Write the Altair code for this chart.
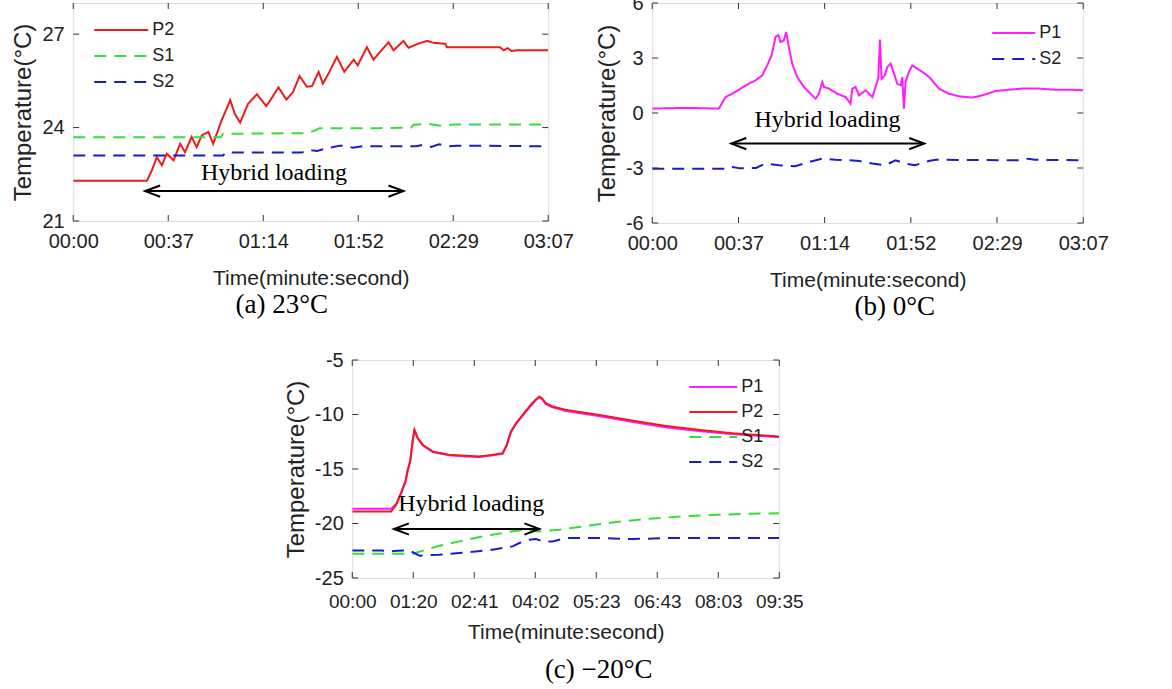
import altair as alt
import pandas as pd

FONT = "Liberation Sans"
SERIF = "Liberation Serif"

# ---------------- Panel (a) 23°C ----------------
a_p2_t = [0, 29, 31, 32.9, 34.9, 36.8, 39.5, 42.1, 44, 46.6, 48.6, 50.6, 53.2, 55.1, 58.4, 61.8, 63.6, 65.7,
          68.8, 72.3, 76, 78, 80.8, 83.9, 86.5, 89.1, 92, 94, 96.6, 98.3, 100.8, 103.8, 106.7, 110.4, 112,
          115.6, 118.2, 121, 124.1, 126.1, 130, 132, 136, 139.2, 142, 146.5, 147.1, 160, 168, 169.5, 171,
          172.5, 174.7, 187]
a_p2_v = [22.29, 22.29, 22.63, 23.05, 22.79, 23.16, 22.95, 23.48, 23.21, 23.7, 23.37, 23.75, 23.86, 23.48,
          24.23, 24.88, 24.44, 24.16, 24.76, 25.07, 24.69, 24.93, 25.29, 24.9, 25.14, 25.65, 25.31, 25.33,
          25.79, 25.41, 25.78, 26.27, 25.79, 26.18, 26.0, 26.58, 26.18, 26.45, 26.74, 26.48, 26.78, 26.56,
          26.7, 26.78, 26.72, 26.69, 26.58, 26.58, 26.58, 26.48, 26.55, 26.46, 26.48, 26.48]
a_s1_t = [0, 58, 59, 92, 95, 97, 120, 133, 134, 140, 145, 150, 187]
a_s1_v = [23.69, 23.69, 23.8, 23.82, 23.9, 23.98, 23.98, 24.0, 24.09, 24.12, 24.06, 24.1, 24.1]
a_s2_t = [0, 59, 60, 90, 93, 96, 100, 105, 108, 110, 114, 135, 138, 141, 144, 148, 151, 187]
a_s2_v = [23.1, 23.1, 23.2, 23.2, 23.28, 23.25, 23.34, 23.42, 23.4, 23.35, 23.4, 23.4, 23.45, 23.38, 23.46,
          23.4, 23.42, 23.4]

# ---------------- Panel (b) 0°C ----------------
b_p1_t = [0, 15, 28.9, 31.8, 34.7, 39, 41.9, 44.8, 47.7, 49.9, 51.8, 53.5, 54.7, 55.7, 57.1, 58.1, 59, 60.7,
          62.9, 65.8, 69.4, 70.9, 72.3, 73.8, 74.5, 76.7, 80.3, 83.9, 86, 86.8, 88.2, 89.7, 92.6, 95.5, 96.9,
          98.1, 98.8, 99.5, 100.9, 102, 103.4, 104.9, 106.3, 107.8, 108.5, 109.2, 109.9, 111.4, 112.8, 115,
          117.2, 119.3, 120.8, 124.4, 128.7, 133.1, 138.9, 143.2, 149, 154.8, 160.5, 167.8, 175, 182.2, 187]
b_p1_v = [0.24, 0.28, 0.24, 0.87, 1.05, 1.38, 1.6, 1.78, 2.05, 2.6, 3.15, 4.15, 4.24, 3.87, 3.96, 4.42, 3.78,
          2.69, 1.96, 1.42, 0.96, 0.78, 1.05, 1.69, 1.42, 1.33, 1.05, 0.87, 0.51, 1.33, 1.42, 0.96, 1.24, 0.87,
          1.42, 1.96, 4.0, 1.87, 2.05, 2.51, 2.69, 2.15, 1.6, 1.51, 1.96, 0.24, 1.69, 2.24, 2.6, 2.42, 2.24,
          2.05, 1.87, 1.33, 1.05, 0.91, 0.84, 0.96, 1.2, 1.27, 1.33, 1.33, 1.27, 1.27, 1.24]
b_s2_t = [0, 33, 35, 38, 45, 49, 55, 62, 68, 73.8, 79.5, 85.3, 90, 95.5, 101, 105.6, 110, 114, 117, 120, 123,
          160, 163, 166, 187]
b_s2_v = [-3.04, -3.04, -2.95, -3.02, -3.0, -2.76, -2.85, -2.9, -2.67, -2.49, -2.55, -2.58, -2.62, -2.76,
          -2.85, -2.58, -2.76, -2.85, -2.73, -2.62, -2.55, -2.58, -2.49, -2.55, -2.58]

# ---------------- Panel (c) -20°C ----------------
c_p_t = [0, 51.4, 58, 64.6, 70.3, 73.3, 76.4, 79.9, 82.1, 86.5, 93.1, 106.3, 128.2, 150.2, 167.8, 185.3,
         198.5, 203.8, 209.5, 216.1, 224.9, 233.7, 241.6, 246.8, 250.3, 255.6, 264.4, 282, 325.9, 369.8,
         413.7, 457.6, 501.5, 563.5]
c_p1_v = [-18.65, -18.65, -18.2, -17.15, -16.1, -15.05, -14.3, -12.35, -11.45, -12.2, -12.82, -13.45, -13.75,
          -13.85, -13.9, -13.75, -13.6, -12.85, -11.6, -10.85, -10.1, -9.35, -8.72, -8.42, -8.58, -9.05, -9.35,
          -9.68, -10.15, -10.68, -11.18, -11.52, -11.8, -12.08]
c_p2_v = [-18.89, -18.89, -18.28, -17.21, -16.15, -15.08, -14.31, -12.33, -11.41, -12.18, -12.79, -13.4, -13.7,
          -13.79, -13.85, -13.7, -13.55, -12.79, -11.56, -10.8, -10.04, -9.27, -8.66, -8.36, -8.51, -8.97,
          -9.27, -9.58, -10.04, -10.56, -11.05, -11.41, -11.72, -12.02]
c_s1_t = [0, 80, 97.5, 115, 141.4, 172, 203, 225, 247, 273, 304, 348, 392, 436, 480, 523.5, 563.5]
c_s1_v = [-22.77, -22.77, -22.4, -22.04, -21.64, -21.18, -20.82, -20.57, -20.73, -20.57, -20.27, -19.87,
          -19.56, -19.35, -19.2, -19.11, -19.05]
c_s2_t = [0, 40, 45, 60, 75.5, 88.7, 115, 150, 185, 211.7, 220.5, 233.7, 242.4, 251.2, 264.4, 282, 326, 370,
          414, 563.5]
c_s2_v = [-22.47, -22.47, -22.6, -22.5, -22.47, -22.95, -22.86, -22.65, -22.4, -22.1, -21.79, -21.49, -21.43,
          -21.64, -21.64, -21.34, -21.34, -21.43, -21.34, -21.34]

# tick labels
ab_xticks = [0, 37.4, 74.8, 112.2, 149.6, 187]
ab_xlabels = ["00:00", "00:37", "01:14", "01:52", "02:29", "03:07"]
c_xticks = [0, 80.5, 161, 241.5, 322, 402.5, 483, 563.5]
c_xlabels = ["00:00", "01:20", "02:41", "04:02", "05:23", "06:43", "08:03", "09:35"]
a_yticks = [21, 24, 27]
b_yticks = [-6, -3, 0, 3, 6]
c_yticks = [-25, -20, -15, -10, -5]

# annotations (data units): arrow start, arrow end, arrow level, text x, text y
a_ann = [28.3, 130, 21.96, 79, 22.53]
b_ann = [34.3, 118, -1.67, 76, -0.39]
c_ann = [55, 247, -20.5, 157, -18.2]

COL = {"P1": "#ff1dff", "P2": "#ee1b1b", "S1": "#36dd36", "S2": "#1b1bcc"}
DASH = {"P1": [1, 0], "P2": [1, 0], "S1": [12, 8], "S2": [12, 8]}


def make_df(series):
    rows = []
    for name, ts, vs in series:
        for i, (t, v) in enumerate(zip(ts, vs)):
            rows.append({"series": name, "t": t, "v": v, "order": i})
    return pd.DataFrame(rows)


def panel(series, xdomain, xticks, xlabels, ydomain, yticks, W, H, lx, ly, sym_len, row_pad,
          ann, caption, cap_dx, cap_offset, xlab_pad, xtitle_pad, xlab_size):
    names = [s[0] for s in series]
    xs = alt.Scale(domain=xdomain, nice=False, zero=False)
    ys = alt.Scale(domain=ydomain, nice=False, zero=False)
    step = xticks[1]
    lab_expr = "[" + ",".join("'%s'" % l for l in xlabels) + "][round(datum.value/%s)]" % step
    X = alt.X("t:Q", scale=xs, axis=alt.Axis(
        values=xticks, labelExpr=lab_expr, title="Time(minute:second)", ticks=False, domain=False,
        grid=False, labelFontSize=xlab_size, titleFontSize=21, labelPadding=xlab_pad, titlePadding=xtitle_pad,
        labelOverlap=False, labelFlush=False, titleFontWeight="normal", labelColor="#222",
        titleColor="#222", labelFont=FONT, titleFont=FONT))
    Y = alt.Y("v:Q", scale=ys, axis=alt.Axis(
        values=yticks, labelExpr="'' + datum.value", title="Temperature(°C)", ticks=False, domain=False,
        grid=False, labelFontSize=20, titleFontSize=24, labelPadding=9, titlePadding=6,
        labelOverlap=False, labelFlush=False, titleFontWeight="normal", labelColor="#222",
        titleColor="#222", labelFont=FONT, titleFont=FONT))
    leg = alt.Legend(title=None, orient="none", legendX=lx, legendY=ly, direction="vertical",
                     symbolType="stroke", symbolSize=sym_len * sym_len, symbolStrokeWidth=2,
                     labelFontSize=18, labelFont=FONT, labelColor="#222", clipHeight=18,
                     rowPadding=row_pad, labelOffset=3, padding=0)
    df = make_df(series)
    lines = alt.Chart(df).mark_line(strokeWidth=2, clip=True).encode(
        x=X, y=Y,
        color=alt.Color("series:N", scale=alt.Scale(domain=names, range=[COL[n] for n in names]), legend=leg),
        strokeDash=alt.StrokeDash("series:N", scale=alt.Scale(domain=names, range=[DASH[n] for n in names]),
                                  legend=leg),
        order="order:Q",
    )
    xt = pd.DataFrame({"t": xticks})
    yt = pd.DataFrame({"v": yticks})
    tick_b = alt.Chart(xt).mark_rule(color="#333", strokeWidth=1).encode(x=X, y=alt.value(H), y2=alt.value(H - 6))
    tick_t = alt.Chart(xt).mark_rule(color="#333", strokeWidth=1).encode(x=X, y=alt.value(0), y2=alt.value(6))
    tick_l = alt.Chart(yt).mark_rule(color="#333", strokeWidth=1).encode(y=Y, x=alt.value(0), x2=alt.value(6))
    tick_r = alt.Chart(yt).mark_rule(color="#333", strokeWidth=1).encode(y=Y, x=alt.value(W), x2=alt.value(W - 6))

    x1, x2, ya, tx, ty = ann
    arr = pd.DataFrame({"t": [x1], "t2": [x2], "v": [ya]})
    rule = alt.Chart(arr).mark_rule(color="black", strokeWidth=2).encode(x=X, x2="t2:Q", y=Y)
    heads = pd.DataFrame({"t": [x1, x2], "v": [ya, ya], "side": ["L", "R"]})
    headL = alt.Chart(heads[heads.side == "L"]).mark_point(
        shape="M2,-0.75L0,0L2,0.75", size=225, filled=False, stroke="black", strokeWidth=2, opacity=1
    ).encode(x=X, y=Y)
    headR = alt.Chart(heads[heads.side == "R"]).mark_point(
        shape="M-2,-0.75L0,0L-2,0.75", size=225, filled=False, stroke="black", strokeWidth=2, opacity=1
    ).encode(x=X, y=Y)
    txt = alt.Chart(pd.DataFrame({"t": [tx], "v": [ty], "label": ["Hybrid loading"]})).mark_text(
        font=SERIF, fontSize=24, color="black", align="center", baseline="middle"
    ).encode(x=X, y=Y, text="label:N")

    return alt.layer(lines, tick_b, tick_t, tick_l, tick_r, rule, headL, headR, txt).properties(
        width=W, height=H,
        title=alt.TitleParams(text=caption, orient="bottom", anchor="middle", frame="group", font=SERIF,
                              fontSize=27, fontWeight="normal", color="black", dx=cap_dx, offset=cap_offset),
    ).resolve_scale(color="shared", strokeDash="shared")


pa = panel([("P2", a_p2_t, a_p2_v), ("S1", a_s1_t, a_s1_v), ("S2", a_s2_t, a_s2_v)],
           [0, 187], ab_xticks, ab_xlabels, [21, 28], a_yticks, 475, 218, 20, 18, 54, 8,
           a_ann, "(a) 23°C", -29, 4, 10, 16, 20)
pb = panel([("P1", b_p1_t, b_p1_v), ("S2", b_s2_t, b_s2_v)],
           [0, 187], ab_xticks, ab_xlabels, [-6, 6], b_yticks, 431, 220, 339, 21, 43, 8,
           b_ann, "(b) 0°C", 27, 4, 10, 16, 20)
pc = panel([("P1", c_p_t, c_p1_v), ("P2", c_p_t, c_p2_v), ("S1", c_s1_t, c_s1_v), ("S2", c_s2_t, c_s2_v)],
           [0, 563.5], c_xticks, c_xlabels, [-25, -5], c_yticks, 427, 218, 336, 18, 48, 7,
           c_ann, "(c) −20°C", 33, 15, 14, 10, 19)

# invisible spacer that nudges the centred bottom panel a little to the left
spacer = alt.Chart(pd.DataFrame({"s": [0]})).mark_point(opacity=0).properties(
    width=20, height=1, view=alt.ViewBackground(stroke="transparent"))
bottom = alt.hconcat(pc, spacer, spacing=4).resolve_scale(
    color="independent", strokeDash="independent")

top = alt.hconcat(pa, pb, spacing=20).resolve_scale(
    x="independent", y="independent", color="independent", strokeDash="independent")
chart = alt.vconcat(top, bottom, spacing=28, center=True).resolve_scale(
    x="independent", y="independent", color="independent", strokeDash="independent"
).properties(padding={"left": 11, "top": -8, "right": 5, "bottom": 0}).configure_view(
    stroke="#333", strokeWidth=1
).configure(font=FONT, background="white")

chart.save("out.html", embed_options={"renderer": "svg", "actions": False})
